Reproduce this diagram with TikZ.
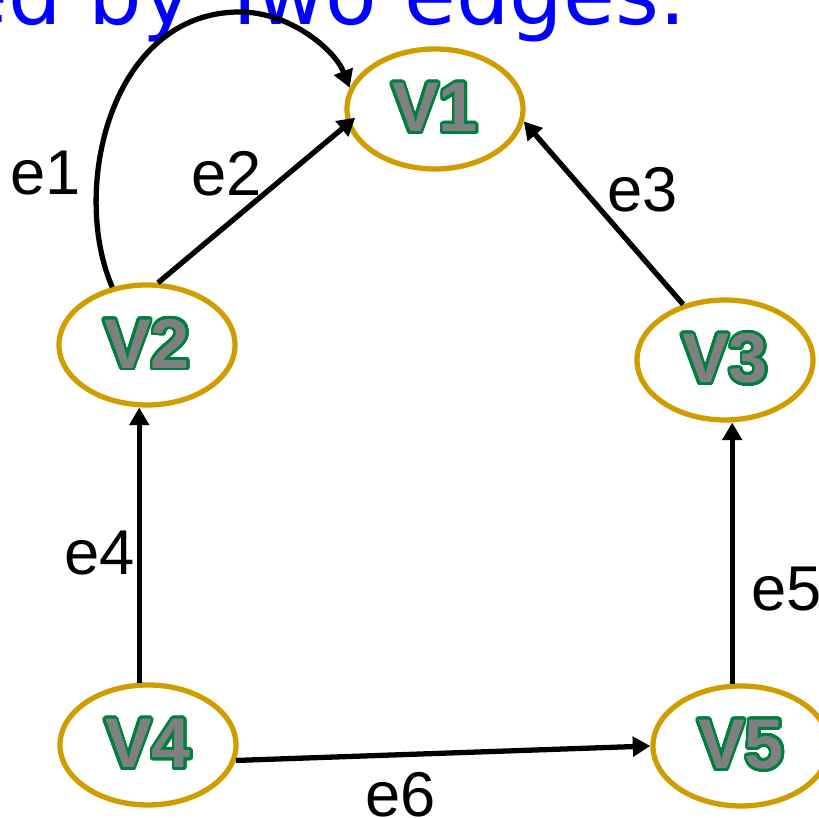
\documentclass[tikz,border=0pt]{standalone}
\usepackage{fontspec}
\setmainfont{Liberation Sans}
\newfontfamily\titlefont{DejaVu Sans}
\usepackage{xcolor}
\usepackage{contour}
\usetikzlibrary{shapes.geometric,arrows.meta}

\definecolor{vgold}{RGB}{207,157,0}
\definecolor{vgreen}{RGB}{0,128,64}
\contourlength{0.8pt}
\contournumber{32}

\begin{document}
\begin{tikzpicture}[
  vertex/.style={ellipse,draw=vgold,line width=1.5pt,minimum width=1.76cm,
    minimum height=1.2cm,inner sep=0pt,text=gray,
    font=\fontsize{20}{20}\selectfont\bfseries},
  edge/.style={line width=1.5pt,-{Triangle[length=5pt,width=5.5pt]}},
  lab/.style={inner sep=0pt,font=\fontsize{18}{18}\selectfont}]
  \useasboundingbox (0,0) rectangle (8.19,8.18);
  \clip (0,0) rectangle (8.19,8.18);

  \node[anchor=base west,inner sep=0pt,text=blue,
    font=\titlefont\fontsize{24}{24}\selectfont] (title) at (-0.44,7.93) {ed by Two edges.};

  \node[vertex] (v1) at (4.35,7.09) {\contour{vgreen}{V1}};
  \node[vertex] (v2) at (1.47,4.73) {\contour{vgreen}{V2}};
  \node[vertex] (v3) at (7.25,4.58) {\contour{vgreen}{V3}};
  \node[vertex] (v4) at (1.48,0.73) {\contour{vgreen}{V4}};
  \node[vertex] (v5) at (7.41,0.72) {\contour{vgreen}{V5}};

  % loop edge e1 goes over the top
  \coordinate (top) at (2.40,8.06);
  \draw[edge] (v2.121) .. controls (0.70,6.28) and (1.10,8.06) .. (top)
    .. controls (2.90,8.06) and (3.35,7.68) .. (v1.166);
  \draw[edge,shorten >=-3pt] (v2.80) -- (v1.190);
  \draw[edge] (v3.127) -- (v1.-8);
  \draw[edge] (v4.98) -- (v4.98 |- v2.south);
  \draw[edge] (v5.98) -- (v5.98 |- v3.south);
  \draw[edge] (v4.-10) -- (v5.west);

  \node[lab] (l1) at (0.46,6.45) {e1};
  \node[lab] (l2) at (2.27,6.44) {e2};
  \node[lab] (l3) at (6.43,6.28) {e3};
  \node[lab] (l4) at (1.00,2.65) {e4};
  \node[lab] (l5) at (7.87,2.29) {e5};
  \node[lab] (l6) at (4.01,0.23) {e6};
\end{tikzpicture}
\end{document}
